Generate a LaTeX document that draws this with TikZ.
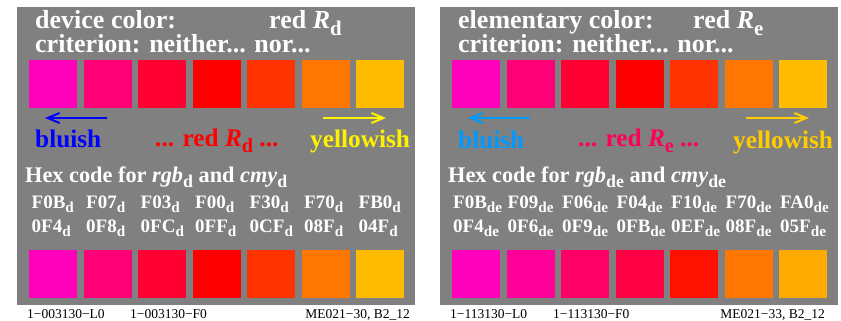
\documentclass[tikz,border=0pt]{standalone}
\usepackage{fontspec}
\setmainfont{Liberation Serif}
\usetikzlibrary{arrows.meta}
\definecolor{panelgray}{HTML}{808080}
\definecolor{cA}{HTML}{FF00BB}
\definecolor{cB}{HTML}{FF0077}
\definecolor{cC}{HTML}{FF0033}
\definecolor{cD}{HTML}{FF0000}
\definecolor{cE}{HTML}{FF3300}
\definecolor{cF}{HTML}{FF7700}
\definecolor{cG}{HTML}{FFBB00}
\definecolor{eB}{HTML}{FF0099}
\definecolor{eC}{HTML}{FF0066}
\definecolor{eD}{HTML}{FF0044}
\definecolor{eE}{HTML}{FF1100}
\definecolor{eG}{HTML}{FFAA00}
\definecolor{lblue}{HTML}{0099FF}
\definecolor{ered}{HTML}{FF0055}
\definecolor{gold}{HTML}{FFCC00}
\newcommand\lsub[1]{\raisebox{-0.25em}{\scalebox{0.8}{#1}}}
\begin{document}
\begin{tikzpicture}[x=1pt,y=-1pt,
  panel/.style={fill=panelgray,draw=none},
  sq/.style={minimum width=48pt,minimum height=48pt,inner sep=0pt,draw=none,anchor=north west},
  ttl/.style={anchor=base west,inner sep=0pt,text=white,font=\bfseries\fontsize{26}{26}\selectfont},
  lbl/.style={anchor=base west,inner sep=0pt,font=\bfseries\fontsize{25.3}{25}\selectfont},
  hexhead/.style={anchor=base west,inner sep=0pt,text=white,font=\bfseries\fontsize{22.3}{22}\selectfont},
  hex/.style={anchor=base west,inner sep=0pt,text=white,font=\bfseries\fontsize{19}{19}\selectfont},
  foot/.style={anchor=base west,inner sep=0pt,text=black,font=\fontsize{13.5}{14}\selectfont},
  footr/.style={foot,anchor=base east},
  arr/.style={line width=2pt,-{Straight Barb[length=12pt,width=10pt,line width=2pt]}}
]
\useasboundingbox (0,0) rectangle (841,321);
\fill[white] (0,0) rectangle (841,321);
% panels
\fill[panel] (17,7) rectangle (415,305);
\fill[panel] (440,7) rectangle (838,305);

% ---------- left panel ----------
\node[ttl] (ltitle) at (35,29) {device color:};
\node[ttl] (lred) at (269,29) {red \textit{R}\lsub{d}};
\node[ttl] (lcrit) at (35,53) {criterion: neither... nor...};
\foreach \c [count=\i from 0] in {cA,cB,cC,cD,cE,cF,cG}{
  \node[sq,fill=\c] (lt\i) at ({29+54.5*\i},60) {};
  \node[sq,fill=\c] (lb\i) at ({29+54.5*\i},250) {};
}
\coordinate (lbs) at (107,118); \coordinate (lbe) at (45,118);
\coordinate (lys) at (323,118); \coordinate (lye) at (386,118);
\draw[arr,blue] (lbs) -- (lbe);
\draw[arr,yellow] (lys) -- (lye);
\node[lbl,text=blue] (lbluish) at (35,147) {bluish};
\node[lbl,text=red] (lredl) at (155,146) {... red \textit{R}\lsub{d} ...};
\node[lbl,text=yellow] (lyel) at (310,147) {yellowish};
\node[hexhead] (lhex) at (25,182) {Hex code for \textit{rgb}\lsub{d} and \textit{cmy}\lsub{d}};
\foreach \a/\b [count=\i from 0] in {F0B/0F4,F07/0F8,F03/0FC,F00/0FF,F30/0CF,F70/08F,FB0/04F}{
  \node[hex] (lha\i) at ({31.5+54.5*\i},208) {\a\lsub{d}};
  \node[hex] (lhb\i) at ({31.5+54.5*\i},232) {\b\lsub{d}};
}
\node[foot] (lf1) at (27,318) {1−003130−L0};
\node[foot] (lf2) at (130,318) {1−003130−F0};
\node[footr] (lf3) at (410,318) {ME021−30, B2\_12};

% ---------- right panel ----------
\node[ttl] (rtitle) at (458,29) {elementary color:};
\node[ttl] (rred) at (693,29) {red \textit{R}\lsub{e}};
\node[ttl] (rcrit) at (458,53) {criterion: neither... nor...};
\foreach \c [count=\i from 0] in {cA,cB,cC,cD,cE,cF,cG}{
  \node[sq,fill=\c] (rt\i) at ({452+54.5*\i},60) {};
}
\foreach \c [count=\i from 0] in {cA,eB,eC,eD,eE,cF,eG}{
  \node[sq,fill=\c] (rb\i) at ({452+54.5*\i},250) {};
}
\coordinate (rbs) at (530,118); \coordinate (rbe) at (468,118);
\coordinate (rys) at (746,118); \coordinate (rye) at (809,118);
\draw[arr,lblue] (rbs) -- (rbe);
\draw[arr,gold] (rys) -- (rye);
\node[lbl,text=lblue] (rbluish) at (458,148) {bluish};
\node[lbl,text=ered] (rredl) at (578,146) {... red \textit{R}\lsub{e} ...};
\node[lbl,text=gold] (ryel) at (733,148) {yellowish};
\node[hexhead] (rhex) at (448,182) {Hex code for \textit{rgb}\lsub{de} and \textit{cmy}\lsub{de}};
\foreach \a/\b [count=\i from 0] in {F0B/0F4,F09/0F6,F06/0F9,F04/0FB,F10/0EF,F70/08F,FA0/05F}{
  \node[hex] (rha\i) at ({453+54.5*\i},208) {\a\lsub{de}};
  \node[hex] (rhb\i) at ({453+54.5*\i},232) {\b\lsub{de}};
}
\node[foot] (rf1) at (450,318) {1−113130−L0};
\node[foot] (rf2) at (553,318) {1−113130−F0};
\node[footr] (rf3) at (825,318) {ME021−33, B2\_12};
\end{tikzpicture}
\end{document}
